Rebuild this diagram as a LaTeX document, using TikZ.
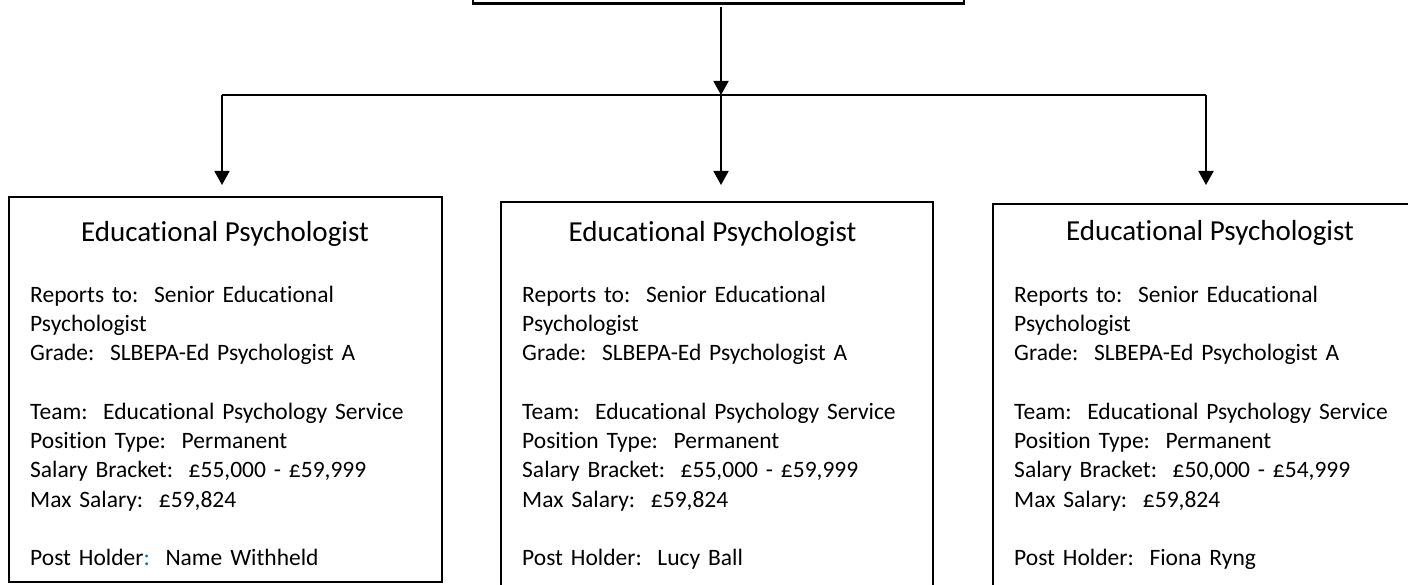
\documentclass[tikz,border=0pt]{standalone}
\usepackage{fontspec}
\setmainfont{Carlito}[Ligatures=NoCommon]
\frenchspacing
\usetikzlibrary{arrows.meta}
\definecolor{holderblue}{RGB}{0,112,192}
\tikzset{
  post/.style={draw, line width=2.2bp, inner sep=0pt},
  posttitle/.style={anchor=base, inner sep=0pt, font=\fontsize{29bp}{35bp}\selectfont},
  postbody/.style={anchor=base west, inner sep=0pt, text width=400bp, align=left,
    font=\fontsize{23.5bp}{29.3bp}\selectfont},
  link/.style={line width=1.8bp},
  tip/.style={link, -{Triangle[width=15bp,length=14bp]}}
}
\begin{document}
\begin{tikzpicture}[x=1bp, y=-1bp]
  \useasboundingbox (0,0) rectangle (1408,585);
  \clip (0,0) rectangle (1408,585);
  % top post, only its lower edge is in view
  \node[post, minimum width=491bp, minimum height=51bp] (sep) at (718.5,-22) {};
  % junctions and arrow tips
  \coordinate (hub) at (721,95);
  \coordinate (l) at (222,95);  \coordinate (r) at (1206,95);
  \coordinate (a1) at (222,185); \coordinate (a2) at (721,185); \coordinate (a3) at (1206,185);
  % the three posts
  \node[post, minimum width=433bp, minimum height=385bp] (ep1) at (225.5,389.5) {};
  \node[post, minimum width=432bp, minimum height=388bp] (ep2) at (717,396) {};
  \node[post, minimum width=434bp, minimum height=386bp] (ep3) at (1210,397) {};
  \node[posttitle] (t1) at (225,241) {Educational Psychologist};
  \node[posttitle] (t2) at (712.5,241) {Educational Psychologist};
  \node[posttitle] (t3) at (1210,240) {Educational Psychologist};
  \node[postbody] (b1) at (30,302) {Reports to:~ Senior Educational\\
    Psychologist\\
    Grade:~ SLBEPA-Ed Psychologist A\\[29.3bp]
    Team:~ Educational Psychology Service\\
    Position Type:~ Permanent\\
    Salary Bracket:~ £55,000 - £59,999\\
    Max Salary:~ £59,824\\[29.3bp]
    Post Holder{\color{holderblue}:}~ Name Withheld};
  \node[postbody] (b2) at (522,302) {Reports to:~ Senior Educational\\
    Psychologist\\
    Grade:~ SLBEPA-Ed Psychologist A\\[29.3bp]
    Team:~ Educational Psychology Service\\
    Position Type:~ Permanent\\
    Salary Bracket:~ £55,000 - £59,999\\
    Max Salary:~ £59,824\\[29.3bp]
    Post Holder:~ Lucy Ball};
  \node[postbody] (b3) at (1014,302) {Reports to:~ Senior Educational\\
    Psychologist\\
    Grade:~ SLBEPA-Ed Psychologist A\\[29.3bp]
    Team:~ Educational Psychology Service\\
    Position Type:~ Permanent\\
    Salary Bracket:~ £50,000 - £54,999\\
    Max Salary:~ £59,824\\[29.3bp]
    Post Holder:~ Fiona Ryng};
  % connectors
  \draw[tip] ([yshift=-2.5bp]sep.south -| hub) -- (hub);
  \draw[link] (l) -- (r);
  \draw[tip] (l) -- (a1);
  \draw[tip] (hub) -- (a2);
  \draw[tip] (r) -- (a3);
\end{tikzpicture}
\end{document}
